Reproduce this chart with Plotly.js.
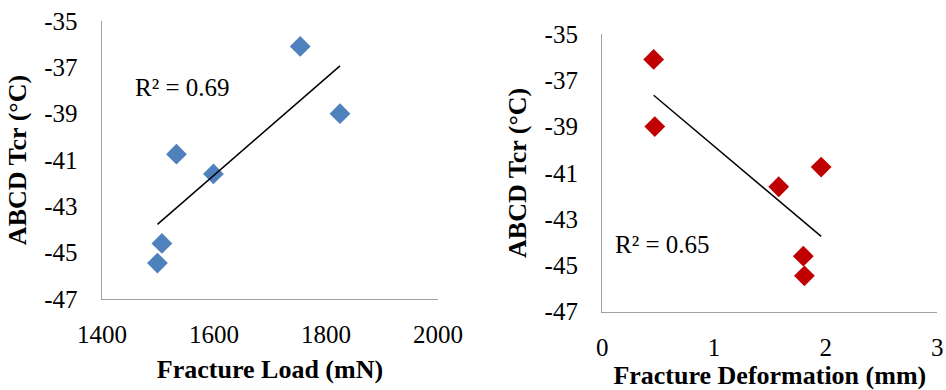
<!DOCTYPE html>
<html>
<head>
<meta charset="utf-8">
<script src="https://cdn.plot.ly/plotly-3.0.1.min.js"></script>
<style>html,body{margin:0;padding:0;background:#fff;}#chart{width:946px;height:390px;}</style>
</head>
<body>
<div id="chart"></div>
<script>
// Data (six samples)
const tcr = [-36.1, -39.0, -40.75, -41.6, -44.6, -45.45];
const fractureLoad = [1754, 1825, 1533, 1599, 1507, 1499];
const fractureDeformation = [0.46, 0.47, 1.96, 1.58, 1.80, 1.81];
const yTicks = [-35, -37, -39, -41, -43, -45, -47];
const xTicksLoad = [1400, 1600, 1800, 2000];
const xTicksDef = [0, 1, 2, 3];
const r2Labels = ['R² = 0.69', 'R² = 0.65'];

function linFit(x, y) {
  const n = x.length;
  const mx = x.reduce((a, b) => a + b, 0) / n;
  const my = y.reduce((a, b) => a + b, 0) / n;
  let sxy = 0, sxx = 0;
  for (let i = 0; i < n; i++) { sxy += (x[i] - mx) * (y[i] - my); sxx += (x[i] - mx) ** 2; }
  const b = sxy / sxx, a = my - b * mx;
  const x0 = Math.min(...x), x1 = Math.max(...x);
  return { x: [x0, x1], y: [a + b * x0, a + b * x1] };
}
const fitL = linFit(fractureLoad, tcr);
const fitR = linFit(fractureDeformation, tcr);

const FONT = 'Liberation Serif, Times New Roman, serif';
const traces = [
  { x: fractureLoad, y: tcr, type: 'scatter', mode: 'markers', xaxis: 'x', yaxis: 'y',
    marker: { symbol: 'diamond', size: 16, color: '#4F81BD' }, hoverinfo: 'none' },
  { x: fitL.x, y: fitL.y, type: 'scatter', mode: 'lines', xaxis: 'x', yaxis: 'y',
    line: { color: '#000', width: 1.5 }, hoverinfo: 'none' },
  { x: fractureDeformation, y: tcr, type: 'scatter', mode: 'markers', xaxis: 'x2', yaxis: 'y2',
    marker: { symbol: 'diamond', size: 16, color: '#C00000' }, hoverinfo: 'none' },
  { x: fitR.x, y: fitR.y, type: 'scatter', mode: 'lines', xaxis: 'x2', yaxis: 'y2',
    line: { color: '#000', width: 1.5 }, hoverinfo: 'none' }
];

const tickFont = { family: FONT, size: 25, color: '#000' };
const titleFont = { family: FONT, size: 26, color: '#000', weight: 'bold' };
function xAx(domain, range, ticks, title, anchor) {
  return { domain, range, tickvals: ticks, ticktext: ticks.map(String), anchor,
    showgrid: false, zeroline: false, showline: true, linecolor: '#A0A0A0', linewidth: 1.4,
    ticks: '', ticklabelstandoff: 13, tickfont: tickFont,
    title: { text: '<b>' + title + '</b>', font: titleFont, standoff: 12 } };
}
function yAx(domain, anchor) {
  return { domain, range: [-47, -35], tickvals: yTicks, ticktext: yTicks.map(String), anchor,
    showgrid: false, zeroline: false, showline: true, linecolor: '#A0A0A0', linewidth: 1.4,
    ticks: '', ticklabelstandoff: 18, tickfont: tickFont,
    title: { text: '<b>ABCD Tcr (°C)</b>', font: titleFont, standoff: 10 } };
}

const layout = {
  width: 946, height: 390,
  margin: { l: 0, r: 0, t: 0, b: 0 },
  paper_bgcolor: '#fff', plot_bgcolor: '#fff',
  showlegend: false,
  xaxis: xAx([0.1078, 0.463], [1400, 2000], xTicksLoad, 'Fracture Load (mN)', 'y'),
  yaxis: yAx([0.2333, 0.9462], 'x'),
  xaxis2: xAx([0.6367, 0.9908], [0, 3], xTicksDef, 'Fracture Deformation (mm)', 'y2'),
  yaxis2: yAx([0.2008, 0.9128], 'x2'),
  annotations: [
    { x: 1543, y: -37.85, xref: 'x', yref: 'y', text: r2Labels[0], showarrow: false,
      font: { family: FONT, size: 25, color: '#000' } },
    { x: 0.543, y: -44.08, xref: 'x2', yref: 'y2', text: r2Labels[1], showarrow: false,
      font: { family: FONT, size: 25, color: '#000' } }
  ]
};

Plotly.newPlot('chart', traces, layout, { staticPlot: true });
</script>
</body>
</html>
